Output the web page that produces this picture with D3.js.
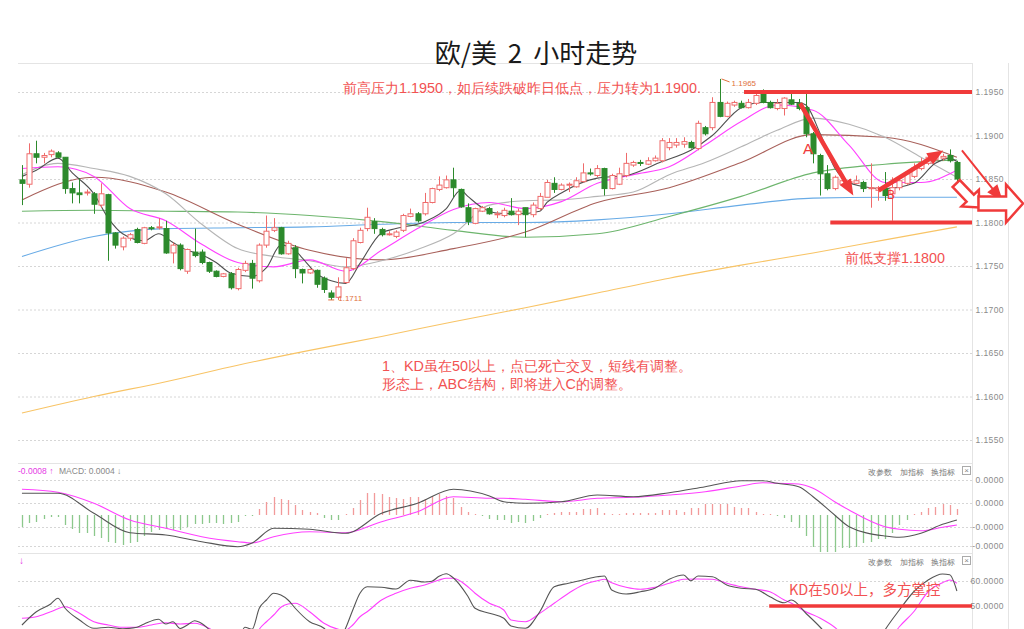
<!DOCTYPE html>
<html><head><meta charset="utf-8">
<script src="https://cdn.jsdelivr.net/npm/d3@7"></script>
<style>
html,body{margin:0;padding:0;background:#fff;}
svg{display:block;}
text{font-family:"Liberation Sans","DejaVu Sans",sans-serif;}
.cjk{font-family:"Noto Sans CJK SC","Noto Sans",sans-serif;}
</style></head><body>
<svg id="c" width="1024" height="629"></svg>
<script>
// ---------- DATA ----------
const openP=[1.1849,1.1844,1.1879,1.1875,1.1878,1.1880,1.1875,1.1839,1.1834,1.1834,
1.1833,1.1820,1.1832,1.1788,1.1772,1.1782,1.1792,1.1776,1.1794,1.1794,
1.1793,1.1765,1.1774,1.1744,1.1766,1.1766,1.1754,1.1744,1.1738,1.1741,
1.1724,1.1745,1.1753,1.1733,1.1774,1.1791,1.1794,1.1764,1.1771,1.1746,
1.1742,1.1745,1.1736,1.1719,1.1714,1.1731,1.1747,1.1777,1.1793,1.1801,
1.1792,1.1787,1.1784,1.1791,1.1807,1.1810,1.1810,1.1823,1.1838,1.1840,
1.1849,1.1838,1.1817,1.1799,1.1813,1.1816,1.1810,1.1808,1.1813,1.1809,
1.1817,1.1809,1.1816,1.1829,1.1845,1.1838,1.1843,1.1841,1.1847,1.1857,
1.1854,1.1862,1.1839,1.1844,1.1854,1.1866,1.1869,1.1867,1.1871,1.1871,
1.1886,1.1889,1.1890,1.1892,1.1885,1.1909,1.1909,1.1938,1.1922,1.1935,
1.1937,1.1932,1.1937,1.1950,1.1938,1.1931,1.1931,1.1941,1.1937,1.1932,
1.1902,1.1877,1.1856,1.1839,1.1844,1.1846,1.1845,1.1846,1.1839,1.1837,
1.1839,1.1833,1.1840,1.1845,1.1853,1.1862,1.1868,1.1872,1.1874,1.1877,
1.1869];
const highP=[1.1866,1.1891,1.1894,1.1880,1.1884,1.1882,1.1875,1.1846,1.1851,1.1838,
1.1835,1.1845,1.1833,1.1789,1.1784,1.1788,1.1794,1.1795,1.1796,1.1805,
1.1802,1.1777,1.1776,1.1770,1.1793,1.1769,1.1755,1.1745,1.1742,1.1743,
1.1748,1.1756,1.1757,1.1776,1.1808,1.1805,1.1795,1.1779,1.1774,1.1747,
1.1747,1.1746,1.1738,1.1722,1.1737,1.1759,1.1782,1.1794,1.1817,1.1805,
1.1794,1.1790,1.1791,1.1810,1.1816,1.1812,1.1834,1.1840,1.1853,1.1854,
1.1863,1.1839,1.1822,1.1817,1.1819,1.1818,1.1813,1.1817,1.1828,1.1816,
1.1817,1.1823,1.1834,1.1849,1.1852,1.1845,1.1846,1.1852,1.1868,1.1862,
1.1866,1.1863,1.1856,1.1863,1.1880,1.1871,1.1872,1.1875,1.1877,1.1897,
1.1897,1.1897,1.1898,1.1894,1.1917,1.1911,1.1944,1.1965,1.1939,1.1940,
1.1940,1.1942,1.1951,1.1953,1.1940,1.1942,1.1944,1.1951,1.1942,1.1948,
1.1904,1.1879,1.1866,1.1854,1.1850,1.1850,1.1854,1.1848,1.1868,1.1842,
1.1858,1.1852,1.1852,1.1859,1.1868,1.1874,1.1877,1.1879,1.1879,1.1884,
1.1871];
const lowP=[1.1820,1.1840,1.1868,1.1868,1.1875,1.1874,1.1833,1.1822,1.1822,1.1831,
1.1810,1.1817,1.1756,1.1770,1.1768,1.1779,1.1776,1.1775,1.1791,1.1792,
1.1764,1.1753,1.1745,1.1741,1.1760,1.1752,1.1742,1.1737,1.1737,1.1723,
1.1722,1.1743,1.1724,1.1731,1.1771,1.1789,1.1763,1.1763,1.1736,1.1730,
1.1741,1.1725,1.1719,1.1711,1.1711,1.1730,1.1745,1.1776,1.1790,1.1787,
1.1784,1.1785,1.1782,1.1789,1.1806,1.1800,1.1808,1.1822,1.1836,1.1839,
1.1829,1.1817,1.1797,1.1798,1.1812,1.1809,1.1805,1.1806,1.1808,1.1797,
1.1783,1.1806,1.1814,1.1829,1.1834,1.1837,1.1835,1.1840,1.1846,1.1854,
1.1852,1.1831,1.1838,1.1843,1.1852,1.1864,1.1865,1.1866,1.1870,1.1869,
1.1883,1.1886,1.1886,1.1885,1.1883,1.1900,1.1906,1.1921,1.1921,1.1933,
1.1931,1.1931,1.1935,1.1937,1.1931,1.1929,1.1923,1.1935,1.1929,1.1898,
1.1868,1.1831,1.1837,1.1837,1.1842,1.1843,1.1844,1.1835,1.1817,1.1825,
1.1825,1.1802,1.1837,1.1843,1.1851,1.1860,1.1866,1.1871,1.1871,1.1869,
1.1837];
const closeP=[1.1845,1.1879,1.1875,1.1877,1.1882,1.1875,1.1839,1.1834,1.1832,1.1835,
1.1821,1.1833,1.1788,1.1774,1.1782,1.1786,1.1777,1.1794,1.1793,1.1795,
1.1765,1.1774,1.1747,1.1769,1.1762,1.1754,1.1744,1.1738,1.1741,1.1725,
1.1746,1.1753,1.1736,1.1774,1.1790,1.1794,1.1764,1.1776,1.1747,1.1742,
1.1746,1.1729,1.1723,1.1714,1.1726,1.1748,1.1779,1.1791,1.1806,1.1793,
1.1786,1.1787,1.1789,1.1808,1.1810,1.1802,1.1823,1.1839,1.1843,1.1849,
1.1840,1.1818,1.1801,1.1816,1.1817,1.1810,1.1810,1.1814,1.1809,1.1813,
1.1809,1.1820,1.1830,1.1846,1.1838,1.1843,1.1844,1.1848,1.1857,1.1856,
1.1862,1.1839,1.1854,1.1856,1.1868,1.1869,1.1868,1.1871,1.1874,1.1894,
1.1892,1.1892,1.1893,1.1886,1.1914,1.1902,1.1938,1.1922,1.1937,1.1938,
1.1932,1.1938,1.1946,1.1938,1.1932,1.1937,1.1943,1.1936,1.1931,1.1902,
1.1879,1.1856,1.1839,1.1852,1.1848,1.1847,1.1848,1.1839,1.1840,1.1840,
1.1831,1.1840,1.1848,1.1856,1.1863,1.1869,1.1875,1.1877,1.1876,1.1871,
1.1850];

const ma5Idx=[0,2,5,7,10,12,14,17,19,21,23,25,27,29,32,34,36,38,39,41,43,45,47,50,52,56,59,61,62,64,66,69,72,73,75,80,84,89,93,96,100,103,108,109,111,113,115,118,120,124,127,129,130];
const ma5=[1.1853,1.1860,1.1874,1.1857,1.1833,1.1805,1.1787,1.1779,1.1787,1.1777,1.1768,1.1763,1.1754,1.1742,1.1738,1.1748,1.1774,1.1768,1.1759,1.1741,1.1733,1.1730,1.1753,1.1788,1.1793,1.1801,1.1816,1.1837,1.1830,1.1817,1.1811,1.1810,1.1813,1.1823,1.1834,1.1851,1.1854,1.1870,1.1883,1.1900,1.1932,1.1938,1.1938,1.1935,1.1902,1.1863,1.1846,1.1840,1.1839,1.1845,1.1868,1.1874,1.1870];
const maShortIdx=[0,5,10,15,20,25,30,35,40,45,50,55,60,65,70,75,80,85,90,95,100,105,110,115,120,125,130];
const ma10=[1.1862,1.1864,1.1853,1.1816,1.1802,1.1775,1.1754,1.1749,1.1757,1.1744,1.1768,1.1793,1.1815,1.1823,1.1816,1.1824,1.1845,1.1855,1.1864,1.1889,1.1916,1.1935,1.1929,1.1889,1.1846,1.1846,1.1860];
const ma20=[1.1855,1.1868,1.1862,1.1853,1.1833,1.1798,1.1770,1.1761,1.1756,1.1749,1.1756,1.1769,1.1787,1.1820,1.1825,1.1826,1.1830,1.1835,1.1855,1.1869,1.1887,1.1906,1.1920,1.1913,1.1898,1.1875,1.1852];
const maLongIdx=[0,10,20,30,40,50,60,70,80,90,100,110,120,130];
const ma30=[1.1826,1.1852,1.1835,1.1798,1.1768,1.1757,1.1770,1.1789,1.1823,1.1840,1.1869,1.1901,1.1898,1.1875];
const ma60=[1.1813,1.1814,1.1813,1.1812,1.1808,1.1801,1.1791,1.1783,1.1787,1.1807,1.1830,1.1857,1.1867,1.1872];
const ma120=[1.1761,1.1784,1.1793,1.1794,1.1795,1.1798,1.1800,1.1800,1.1803,1.1810,1.1820,1.1828,1.1829,1.1829];
const ma250=[1.1581,1.1600,1.1617,1.1636,1.1653,1.1669,1.1686,1.1702,1.1719,1.1736,1.1751,1.1765,1.1780,1.1795];
const priceTicks=[1.155,1.16,1.165,1.17,1.175,1.18,1.185,1.19,1.195];

// MACD
const macdHist=[-0.00012,-0.00008,-0.00007,-0.00004,-0.00002,-0.00002,-0.00010,-0.00014,-0.00018,-0.00018,
-0.00021,-0.00023,-0.00027,-0.00028,-0.00030,-0.00028,-0.00027,-0.00021,-0.00017,-0.00015,
-0.00014,-0.00015,-0.00015,-0.00012,-0.00009,-0.00009,-0.00008,-0.00008,-0.00009,-0.00008,
-0.00007,-0.00001,-0.00001,0.00006,0.00013,0.00018,0.00016,0.00015,0.00010,0.00005,
0.00003,0.00002,-0.00003,-0.00005,-0.00005,0,0.00007,0.00015,0.00022,0.00022,
0.00021,0.00018,0.00017,0.00016,0.00018,0.00018,0.00016,0.00019,0.00021,0.00019,
0.00017,0.00008,0.00003,0.00001,-0.00001,-0.00004,-0.00005,-0.00005,-0.00008,-0.00007,
-0.00008,-0.00006,-0.00003,0,0.00002,0.00003,0.00003,0.00003,0.00006,0.00006,
0.00007,0.00002,0.00001,0.00001,0.00002,0.00002,0.00002,0.00002,0.00002,0.00005,
0.00005,0.00005,0.00003,0.00007,0.00007,0.00011,0.00011,0.00011,0.00011,0.00008,
0.00007,0.00007,0.00003,0.00001,0,-0.00001,-0.00003,-0.00007,-0.00013,-0.00021,
-0.00032,-0.00037,-0.00037,-0.00037,-0.00033,-0.00033,-0.00032,-0.00028,-0.00027,-0.00024,
-0.00024,-0.00018,-0.00010,-0.00005,0,0.00003,0.00007,0.00008,0.00011,0.00010,
0.00006];
const macdIdx=[0,5,10,15,20,25,30,32,35,40,45,50,55,60,65,67,70,75,80,85,90,95,100,103,105,108,110,113,115,120,122,125,128,130];
const macdDif=[0.000217,0.000217,0.000017,-0.000177,-0.0002,-0.000267,-0.000317,-0.00028,-0.000133,-0.000143,-0.000183,0.000017,0.000117,0.000257,0.00019,0.000133,0.000117,0.000133,0.0002,0.000183,0.000223,0.000283,0.000343,0.000343,0.000317,0.000283,0.000183,0,-0.000117,-0.00021,-0.000223,-0.000183,-0.000093,-0.00005];
const macdDea=[0.000257,0.000227,0.000117,-0.00005,-0.000133,-0.000217,-0.000267,-0.00028,-0.000217,-0.000167,-0.000177,-0.000067,0.000033,0.000183,0.000167,0.000167,0.000157,0.000133,0.000167,0.000177,0.0002,0.000233,0.00029,0.000323,0.000317,0.00031,0.000267,0.000133,0.00005,-0.000117,-0.000143,-0.000157,-0.000123,-0.0001];
const macdTicks=[0.00035,0.00012,-0.00012,-0.00031];
const macdTickLabels=["0.0000","0.0000","-0.0000","-0.0000"];

// KD
const kIdx=[0,2,4,5,6,8,10,12,14,16,17,19,20,21,22,23,24,25,26,28,30,31,32,33,34,35,36,37,38,40,42,43,44,45,46,47,48,50,52,54,56,57,58,59,60,62,63,65,67,68,70,72,74,76,78,80,81,82,84,86,88,90,92,93,94,96,98,100,102,104,106,107,109,111,113,115,118,120,122,124,126,128,129,130];
const kVal=[42.4,47.7,50.8,53.1,49.1,44.4,41.1,41.5,40.9,41.5,42.8,44.7,42.8,43.7,41.0,42.4,44.1,43.0,40.7,35,36,41.5,40.7,49.1,52.4,55.1,54.4,52.4,49.1,43.7,41.1,38,36,41.1,48.4,55.1,57.7,57.5,56.8,60.3,59.6,59.9,61.9,62.9,61.2,53.9,49.1,47.1,45.1,42.0,41.1,47.7,57.7,59.1,60.4,61.7,62.0,56.4,54.8,55.7,57.1,60.7,62.4,60.1,62.0,61.7,58.4,57.1,56.7,53.7,51.3,52.4,47.1,41.5,35,30,30,40.4,48.4,55.7,60.4,62.8,62.5,56.0];
const dIdx=[0,2,4,6,8,10,12,14,16,18,20,22,24,26,28,30,32,33,34,35,36,37,38,40,42,44,45,46,47,48,50,52,54,56,58,59,60,62,63,65,67,68,70,72,74,76,78,80,81,82,84,86,88,90,92,94,96,98,100,102,104,106,107,109,111,113,115,118,120,122,124,126,128,129,130];
const dVal=[45.1,45.7,47.7,49.7,47.1,43.7,42.4,41.5,41.5,42.4,43.3,42.8,43.1,41.1,37,34,35,40.7,43.7,46.4,49.5,50.8,51.1,47.7,43.1,40.7,40.4,42.4,45.7,47.7,52.4,55.1,57.1,58.4,60.4,61.1,61.1,57.7,55.1,51.1,48.4,44.4,43.7,47.1,51.1,55.1,58.4,60.1,60.7,59.3,57.5,56.7,57.5,59.1,60.7,60.8,60.7,59.1,57.7,56.7,55.7,52.4,51.1,47.7,45.1,41.5,36,32,34,41.7,47.7,55.7,59.3,60.4,59.1];
const kdTicks=[60,50];

// ---------- DRAW ----------
const svg=d3.select("#c");
const plotL=18, plotR=972;
const x=d3.scaleLinear().domain([-0.55,132.1]).range([plotL,plotR]);
const y=d3.scaleLinear().domain([1.155,1.195]).range([440,92]);
const yM=d3.scaleLinear().domain([-0.00038,0.00048]).range([553,467]);
const yK=d3.scaleLinear().domain([50,60]).range([606,581]);

svg.append("rect").attr("width",1024).attr("height",629).attr("fill","#fff");
const defs=svg.append("defs");
defs.append("clipPath").attr("id","cp").append("rect").attr("x",plotL).attr("y",63).attr("width",plotR-plotL).attr("height",397);
defs.append("clipPath").attr("id","cm").append("rect").attr("x",plotL).attr("y",463).attr("width",plotR-plotL).attr("height",90);
defs.append("clipPath").attr("id","ck").append("rect").attr("x",plotL).attr("y",554).attr("width",plotR-plotL).attr("height",75);

// frame lines
const frame=svg.append("g").attr("stroke","#e4e4e4").attr("stroke-width",1);
[63.5,463.5,553.5].forEach(v=>frame.append("line").attr("x1",plotL).attr("x2",plotR).attr("y1",v).attr("y2",v));
frame.append("line").attr("x1",972.5).attr("x2",972.5).attr("y1",63).attr("y2",629);
frame.append("line").attr("x1",1008.5).attr("x2",1008.5).attr("y1",63).attr("y2",629);

function grid(scale,ticks){
  const g=svg.append("g").attr("transform",`translate(${plotR},0)`)
    .call(d3.axisLeft(scale).tickValues(ticks).tickSize(plotR-plotL).tickFormat(""));
  g.select(".domain").remove();
  g.selectAll("line").attr("stroke","#d6d6d6").attr("stroke-dasharray","2,2");
}
function labels(scale,ticks,fmt){
  const g=svg.append("g").attr("transform","translate(1004,0)")
    .call(d3.axisLeft(scale).tickValues(ticks).tickSize(0).tickPadding(0).tickFormat(fmt));
  g.select(".domain").remove();
  g.selectAll("text").attr("fill","#8a8a8a").style("font-size","8.5px").style("letter-spacing","0.4px")
    .style("font-family","'Liberation Sans',sans-serif");
}
grid(y,priceTicks); labels(y,priceTicks,d3.format(".4f"));
grid(yM,macdTicks); labels(yM,macdTicks,(d,i)=>macdTickLabels[i]);
grid(yK,kdTicks); labels(yK,kdTicks,d3.format(".4f"));

// title
const tt=svg.append("text").attr("class","cjk").attr("x",536).attr("y",63).attr("text-anchor","middle")
  .attr("fill","#1a1a1a").style("font-size","26px");
tt.append("tspan").text("欧/美");
tt.append("tspan").attr("dx",5).text(" 2");
tt.append("tspan").attr("dx",5).text(" 小时走势");

// price panel
const pp=svg.append("g").attr("clip-path","url(#cp)");
const maLine=d3.line().x(d=>x(d[0])).y(d=>y(d[1])).curve(d3.curveMonotoneX);
const maDefs=[
  [maLongIdx,ma250,"#f8c466"],
  [maLongIdx,ma120,"#68abe6"],
  [maLongIdx,ma60,"#6db56d"],
  [maLongIdx,ma30,"#a8605a"],
  [maShortIdx,ma20,"#b5b5b5"],
  [maShortIdx,ma10,"#ff40ff"],
  [ma5Idx,ma5,"#505050"]
];
maDefs.forEach(([ix,vals,col])=>{
  pp.append("path").datum(d3.zip(ix,vals)).attr("d",maLine).attr("fill","none").attr("stroke",col).attr("stroke-width",1.1);
});
const candles=openP.map((o,i)=>({i,o,h:highP[i],l:lowP[i],c:closeP[i]}));
const upC="#ef6b6b", dnC="#2c8a2c";
const cg=pp.append("g");
cg.selectAll("line.w").data(candles).join("line")
  .attr("x1",d=>Math.round(x(d.i))+0.5).attr("x2",d=>Math.round(x(d.i))+0.5)
  .attr("y1",d=>y(d.h)).attr("y2",d=>y(d.l))
  .attr("stroke",d=>d.c>=d.o?upC:dnC).attr("stroke-width",1);
cg.selectAll("rect").data(candles).join("rect")
  .attr("x",d=>Math.round(x(d.i))-2)
  .attr("y",d=>y(Math.max(d.o,d.c)))
  .attr("width",5)
  .attr("height",d=>Math.max(1,y(Math.min(d.o,d.c))-y(Math.max(d.o,d.c))))
  .attr("fill",d=>d.c>=d.o?"#fff":dnC)
  .attr("stroke",d=>d.c>=d.o?upC:dnC).attr("stroke-width",1);

// high / low marks
const hiI=d3.maxIndex(highP), loI=d3.minIndex(lowP);
const mk=svg.append("g").attr("fill","#e0703c").style("font-size","8px");
mk.append("line").attr("x1",x(hiI)+2).attr("y1",y(highP[hiI])).attr("x2",x(hiI)+10).attr("y2",y(highP[hiI])+3).attr("stroke","#e0703c");
mk.append("text").attr("x",x(hiI)+12).attr("y",y(highP[hiI])+7).text(d3.format(".4f")(highP[hiI]));
mk.append("line").attr("x1",x(loI)-3).attr("y1",y(lowP[loI])).attr("x2",x(loI)+3).attr("y2",y(lowP[loI])).attr("stroke","#e0703c");
mk.append("text").attr("x",x(loI)+7).attr("y",y(lowP[loI])+1).text(d3.format(".4f")(lowP[loI]));

// annotations (data coordinates)
const red="#f03a3a", txtRed="#f25252";
const levels=[{p:1.195,i0:100.4,i1:132.1},{p:1.18,i0:112.4,i1:132.1}];
levels.forEach(l=>svg.append("line").attr("x1",x(l.i0)).attr("x2",x(l.i1)).attr("y1",y(l.p)).attr("y2",y(l.p))
  .attr("stroke",red).attr("stroke-width",4));

function arrowPts(x0,y0,x1,y1,sw,hw,hl){
  const dx=x1-x0, dy=y1-y0, L=Math.hypot(dx,dy), ux=dx/L, uy=dy/L, nx=-uy, ny=ux;
  const bx=x1-ux*hl, by=y1-uy*hl;
  return [[x0+nx*sw/2,y0+ny*sw/2],[bx+nx*sw/2,by+ny*sw/2],[bx+nx*hw/2,by+ny*hw/2],[x1,y1],
          [bx-nx*hw/2,by-ny*hw/2],[bx-nx*sw/2,by-ny*sw/2],[x0-nx*sw/2,y0-ny*sw/2]];
}
const solidArrows=[
  {i0:108.2,p0:1.19368,i1:115.6,p1:1.1831,sw:4.5,hw:13,hl:16},
  {i0:119.1,p0:1.18368,i1:128.1,p1:1.18828,sw:4.5,hw:13,hl:16},
  {i0:130.7,p0:1.18828,i1:136.4,p1:1.18241,sw:2,hw:13,hl:17}
];
solidArrows.forEach(a=>svg.append("polygon")
  .attr("points",arrowPts(x(a.i0),y(a.p0),x(a.i1),y(a.p1),a.sw,a.hw,a.hl).map(p=>p.join(",")).join(" "))
  .attr("fill",red));
const hollowArrows=[
  {i0:129.9,p0:1.18448,i1:133.1,p1:1.18172,sw:10,hw:24,hl:13},
  {i0:133.0,p0:1.18218,i1:139.2,p1:1.18218,sw:14,hw:38,hl:17}
];
hollowArrows.forEach(a=>svg.append("polygon")
  .attr("points",arrowPts(x(a.i0),y(a.p0),x(a.i1),y(a.p1),a.sw,a.hw,a.hl).map(p=>p.join(",")).join(" "))
  .attr("fill","#fff").attr("stroke",red).attr("stroke-width",2.5).attr("stroke-linejoin","miter"));

const ann=svg.append("g").attr("class","cjk").attr("fill",txtRed).style("font-size","14.4px");
ann.append("text").attr("x",343).attr("y",93).text("前高压力1.1950，如后续跌破昨日低点，压力转为1.1900.");
ann.append("text").attr("x",845).attr("y",263).text("前低支撑1.1800");
ann.append("text").attr("x",382).attr("y",371).text("1、KD虽在50以上，点已死亡交叉，短线有调整。");
ann.append("text").attr("x",382).attr("y",389).text("形态上，ABC结构，即将进入C的调整。");
ann.append("text").attr("x",803).attr("y",154).attr("fill",red).style("font-size","15px").text("A");
ann.append("text").attr("x",887).attr("y",199).attr("fill",red).style("font-size","12px").text("B");

// MACD panel
const mg=svg.append("g").attr("clip-path","url(#cm)");
mg.selectAll("line").data(macdHist).join("line")
  .attr("x1",(d,i)=>Math.round(x(i))+0.5).attr("x2",(d,i)=>Math.round(x(i))+0.5)
  .attr("y1",yM(0)).attr("y2",d=>d===0?yM(0)-1:yM(d))
  .attr("stroke",d=>d>=0?"#f29a9a":"#8cc88c").attr("stroke-width",1.3);
const mLine=d3.line().x(d=>x(d[0])).y(d=>yM(d[1])).curve(d3.curveMonotoneX);
mg.append("path").datum(d3.zip(macdIdx,macdDea)).attr("d",mLine).attr("fill","none").attr("stroke","#ff40ff").attr("stroke-width",1.1);
mg.append("path").datum(d3.zip(macdIdx,macdDif)).attr("d",mLine).attr("fill","none").attr("stroke","#555").attr("stroke-width",1.1);

const hdr=svg.append("g").style("font-size","8.5px");
hdr.append("text").attr("x",18).attr("y",474).attr("fill","#e53be5").text("-0.0008 ↑");
hdr.append("text").attr("x",59).attr("y",474).attr("fill","#888").text("MACD: 0.0004 ↓");
hdr.append("text").attr("x",19).attr("y",564).attr("fill","#e53be5").style("font-size","10px").text("↓");

function tools(yy){
  const g=svg.append("g").attr("class","cjk").attr("fill","#777").style("font-size","8px");
  g.append("text").attr("x",868).attr("y",yy).text("改参数");
  g.append("text").attr("x",900).attr("y",yy).text("加指标");
  g.append("text").attr("x",931).attr("y",yy).text("换指标");
  svg.append("rect").attr("x",962.5).attr("y",yy-8.5).attr("width",8).attr("height",8).attr("fill","#fff").attr("stroke","#aaa");
  svg.append("text").attr("x",966.5).attr("y",yy-2).attr("text-anchor","middle").attr("fill","#888").style("font-size","8px").text("×");
}
tools(475); tools(565);

// KD panel
const kg=svg.append("g").attr("clip-path","url(#ck)");
const kLine=d3.line().x(d=>x(d[0])).y(d=>yK(d[1])).curve(d3.curveMonotoneX);
kg.append("path").datum(d3.zip(dIdx,dVal)).attr("d",kLine).attr("fill","none").attr("stroke","#ff40ff").attr("stroke-width",1.1);
kg.append("path").datum(d3.zip(kIdx,kVal)).attr("d",kLine).attr("fill","none").attr("stroke","#555").attr("stroke-width",1.1);
svg.append("line").attr("x1",x(103.9)).attr("x2",x(132.1)).attr("y1",yK(50)).attr("y2",yK(50)).attr("stroke",red).attr("stroke-width",3.5);
svg.append("text").attr("class","cjk").attr("x",789).attr("y",595).attr("fill",txtRed).style("font-size","14.5px").text("KD在50以上，多方掌控");
</script>
</body></html>
